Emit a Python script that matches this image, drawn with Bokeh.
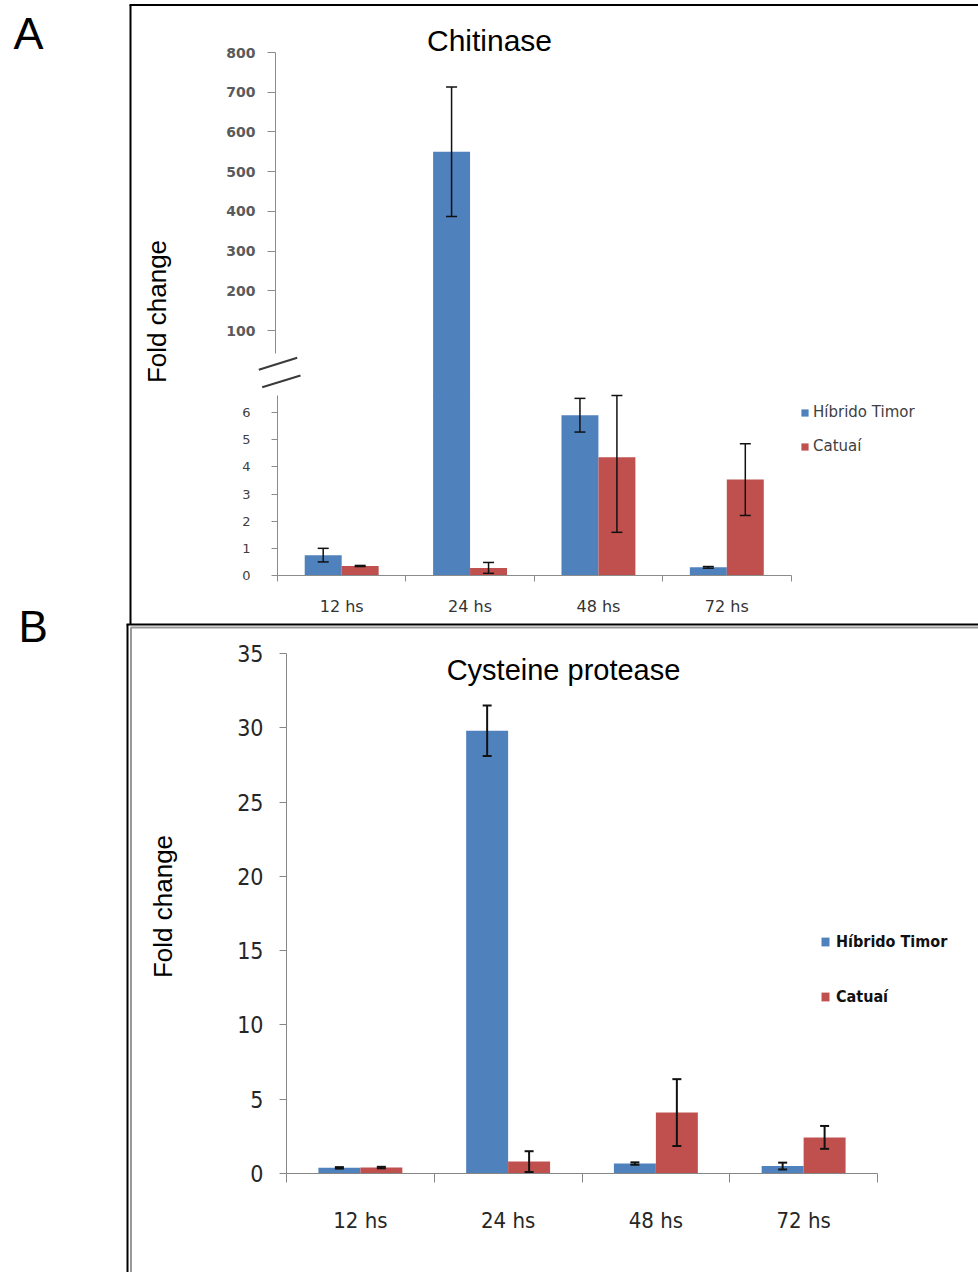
import math
import numpy as np
from bokeh.plotting import figure
from bokeh.models import (Range1d, LinearAxis, FixedTicker, Whisker, TeeHead,
                          ColumnDataSource, Legend, LegendItem, Label)
from bokeh.embed import file_html
from bokeh.resources import INLINE

# ---------------- data ----------------
categories = ["12 hs", "24 hs", "48 hs", "72 hs"]
series_names = ["Híbrido Timor", "Catuaí"]

# Panel A - Chitinase
chit_hibrido = [0.75, 550.0, 5.9, 0.3]
chit_hibrido_err = [0.25, 163.0, 0.62, 0.03]
chit_catuai = [0.35, 0.28, 4.35, 3.53]
chit_catuai_err = [0.02, 0.2, 2.76, 1.32]
chit_low_ticks = [0, 1, 2, 3, 4, 5, 6]
chit_top_ticks = [100, 200, 300, 400, 500, 600, 700, 800]

# Panel B - Cysteine protease
cyst_hibrido = [0.38, 29.8, 0.67, 0.5]
cyst_hibrido_err = [0.05, 1.7, 0.08, 0.23]
cyst_catuai = [0.4, 0.8, 4.1, 2.43]
cyst_catuai_err = [0.05, 0.7, 2.25, 0.77]
cyst_ticks = [0, 5, 10, 15, 20, 25, 30, 35]

BLUE = "#4F81BD"
RED = "#C0504D"

# ---------------- layout geometry (page pixels) ----------------
W, H = 978, 1272
PL, PT = 0, 0
PR, PB = PL + W, PT + H


def lin(p0, v0, p1, v1):
    k = (v1 - v0) / (p1 - p0)
    return lambda px: v0 + (px - p0) * k


ax = lin(277, -0.5, 790.5, 3.5)       # panel A x
ay = lin(575, 0.0, 412, 6.0)          # panel A lower y
aty = lin(52, 800.0, 330, 100.0)      # panel A upper y
bx = lin(286, -0.5, 877, 3.5)         # panel B x
by = lin(1173, 0.0, 653, 35.0)        # panel B y

LOW_MAX = ay(395)
TOP_MIN = aty(352.5)
BREAK_TOP = aty(396)

p = figure(width=W, height=H, output_backend="svg", toolbar_location=None,
           x_axis_type=None, y_axis_type=None, min_border=0,
           x_range=Range1d(ax(PL), ax(PR)), y_range=Range1d(ay(PB), ay(PT)),
           outline_line_color=None, background_fill_color="white",
           border_fill_color="white")
p.min_border_left = p.min_border_right = p.min_border_top = p.min_border_bottom = 0
p.extra_x_ranges = {"bx": Range1d(bx(PL), bx(PR))}
p.extra_y_ranges = {"atop": Range1d(aty(PB), aty(PT)), "by": Range1d(by(PB), by(PT))}

# ---------------- panel boxes ----------------
p.segment(x0=[ax(129), ax(130)], y0=[ay(4.5), ay(4.5)], x1=[ax(PR), ax(130)], y1=[ay(4.5), ay(624)],
          line_color="black", line_width=2)
p.segment(x0=[ax(126), ax(127)], y0=[ay(624), ay(624)], x1=[ax(PR), ax(127)], y1=[ay(624), ay(PB)],
          line_color="black", line_width=2)
p.segment(x0=[ax(130), ax(130.5)], y0=[ay(627), ay(627)], x1=[ax(PR), ax(130.5)], y1=[ay(627), ay(PB)],
          line_color="#9a9a9a", line_width=2)

# ---------------- panel A bars ----------------
xa = np.arange(len(categories), dtype=float)
wa = 0.288
hib = np.array(chit_hibrido)
cat = np.array(chit_catuai)
hib_e = np.array(chit_hibrido_err)
cat_e = np.array(chit_catuai_err)

rA_b = p.vbar(x=xa - wa / 2, top=np.minimum(hib, LOW_MAX), bottom=0, width=wa,
              fill_color=BLUE, line_color=None)
rA_r = p.vbar(x=xa + wa / 2, top=np.minimum(cat, LOW_MAX), bottom=0, width=wa,
              fill_color=RED, line_color=None)
big = hib > LOW_MAX
p.vbar(x=(xa - wa / 2)[big], top=hib[big], bottom=BREAK_TOP, width=wa,
       fill_color=BLUE, line_color=None, y_range_name="atop")


def whisk(x, m, e, lw, size, xr="default", yr="default", top_clip=None):
    up = m + e
    if top_clip is not None:
        up = np.minimum(up, top_clip)
    src = ColumnDataSource(dict(x=x, lower=m - e, upper=up))
    w = Whisker(source=src, base="x", lower="lower", upper="upper", dimension="height",
                line_color="#111111", line_width=lw, level="annotation",
                upper_head=TeeHead(size=size, line_color="#111111", line_width=lw),
                lower_head=TeeHead(size=size, line_color="#111111", line_width=lw),
                x_range_name=xr, y_range_name=yr)
    p.add_layout(w)


small = ~big
whisk((xa - wa / 2)[small], hib[small], hib_e[small], 1.5, 11, top_clip=LOW_MAX)
whisk(xa + wa / 2, cat, cat_e, 1.5, 11, top_clip=LOW_MAX)
whisk((xa - wa / 2)[big], hib[big], hib_e[big], 1.5, 11, yr="atop")

# ---------------- panel A axes ----------------
AX_COLOR = "#8c8c8c"
y_low = LinearAxis(fixed_location=ax(277), bounds=(0, LOW_MAX),
                   ticker=FixedTicker(ticks=chit_low_ticks, minor_ticks=[]),
                   axis_line_color=AX_COLOR, major_tick_line_color=AX_COLOR,
                   major_tick_out=6, major_tick_in=0, minor_tick_out=0,
                   major_label_standoff=21, major_label_text_font="DejaVu Sans",
                   major_label_text_font_size="13px", major_label_text_color="#404040")
p.add_layout(y_low, "left")
y_top = LinearAxis(fixed_location=ax(275), bounds=(TOP_MIN, 800), y_range_name="atop",
                   ticker=FixedTicker(ticks=chit_top_ticks, minor_ticks=[]),
                   axis_line_color=AX_COLOR, major_tick_line_color=AX_COLOR,
                   major_tick_out=8, major_tick_in=0, minor_tick_out=0,
                   major_label_standoff=12, major_label_text_font="DejaVu Sans",
                   major_label_text_font_style="bold",
                   major_label_text_font_size="14px", major_label_text_color="#5a5a5a")
p.add_layout(y_top, "left")
x_a = LinearAxis(fixed_location=0, bounds=(-0.5, len(categories) - 0.5),
                 ticker=FixedTicker(ticks=list(range(len(categories))),
                                    minor_ticks=[i - 0.5 for i in range(len(categories) + 1)]),
                 major_label_overrides={i: c for i, c in enumerate(categories)},
                 axis_line_color=AX_COLOR, minor_tick_line_color=AX_COLOR,
                 major_tick_out=0, major_tick_in=0, minor_tick_out=6, minor_tick_in=0,
                 major_label_standoff=15, major_label_text_font="DejaVu Sans",
                 major_label_text_font_size="16px", major_label_text_color="#333333")
p.add_layout(x_a, "below")

# break marks
p.segment(x0=[ax(258.3), ax(261.7)], y0=[ay(369.3), ay(386.7)],
          x1=[ax(296.7), ax(300)], y1=[ay(357.3), ay(375)],
          line_color="#3a3a3a", line_width=2)

# ---------------- panel B bars ----------------
wb = 0.284
hb = np.array(cyst_hibrido)
cb = np.array(cyst_catuai)
rB_b = p.vbar(x=xa - wb / 2, top=hb, bottom=0, width=wb, fill_color=BLUE, line_color=None,
              x_range_name="bx", y_range_name="by")
rB_r = p.vbar(x=xa + wb / 2, top=cb, bottom=0, width=wb, fill_color=RED, line_color=None,
              x_range_name="bx", y_range_name="by")
whisk(xa - wb / 2, hb, np.array(cyst_hibrido_err), 2, 9, xr="bx", yr="by")
whisk(xa + wb / 2, cb, np.array(cyst_catuai_err), 2, 9, xr="bx", yr="by")

NARROW = "DejaVu Sans Condensed"
y_b = LinearAxis(fixed_location=bx(286), bounds=(0, 35), x_range_name="bx", y_range_name="by",
                 ticker=FixedTicker(ticks=cyst_ticks, minor_ticks=[]),
                 axis_line_color="#868686", major_tick_line_color="#868686",
                 major_tick_out=7, major_tick_in=0, minor_tick_out=0,
                 major_label_standoff=16, major_label_text_font=NARROW,
                 major_label_text_font_size="23px", major_label_text_color="#262626")
p.add_layout(y_b, "left")
x_b = LinearAxis(fixed_location=0, bounds=(-0.5, len(categories) - 0.5),
                 x_range_name="bx", y_range_name="by",
                 ticker=FixedTicker(ticks=list(range(len(categories))),
                                    minor_ticks=[i - 0.5 for i in range(len(categories) + 1)]),
                 major_label_overrides={i: c for i, c in enumerate(categories)},
                 axis_line_color="#868686", minor_tick_line_color="#868686",
                 major_tick_out=0, major_tick_in=0, minor_tick_out=9, minor_tick_in=0,
                 major_label_standoff=25, major_label_text_font=NARROW,
                 major_label_text_font_size="22px", major_label_text_color="#262626")
p.add_layout(x_b, "below")

# ---------------- texts ----------------
def lab(px, py, text, size, align="left", baseline="alphabetic", angle=0.0,
        font="Liberation Sans", color="black", style="normal"):
    p.add_layout(Label(x=ax(px), y=ay(py), text=text, text_font=font, text_font_size=size,
                       text_align=align, text_baseline=baseline, angle=angle,
                       text_color=color, text_font_style=style))


lab(13, 33, "A", "45px")
lab(18, 626, "B", "44px")
lab(489, 40, "Chitinase", "30px", align="center")
lab(563, 669, "Cysteine protease", "29px", align="center")
lab(156, 311, "Fold change", "26px", align="center", baseline="middle", angle=math.pi / 2)
lab(162, 906, "Fold change", "26px", align="center", baseline="middle", angle=math.pi / 2)

# ---------------- legends ----------------
legA = Legend(items=[LegendItem(label=series_names[0], renderers=[rA_b]),
                     LegendItem(label=series_names[1], renderers=[rA_r])],
              location=(800 - PL, PB - 455), orientation="vertical",
              glyph_width=9, glyph_height=9, label_height=18, label_standoff=4, spacing=16,
              padding=0, margin=0, border_line_color=None, background_fill_alpha=0,
              label_text_font="DejaVu Sans", label_text_font_size="15px",
              label_text_color="#404040")
p.add_layout(legA)
legB = Legend(items=[LegendItem(label=series_names[0], renderers=[rB_b]),
                     LegendItem(label=series_names[1], renderers=[rB_r])],
              location=(820 - PL, PB - 1007), orientation="vertical",
              glyph_width=10, glyph_height=11, label_height=22, label_standoff=6, spacing=33,
              padding=0, margin=0, border_line_color=None, background_fill_alpha=0,
              label_text_font=NARROW, label_text_font_size="16px",
              label_text_font_style="bold", label_text_color="#111111")
p.add_layout(legB)

open("out.html", "w").write(file_html(p, INLINE))
